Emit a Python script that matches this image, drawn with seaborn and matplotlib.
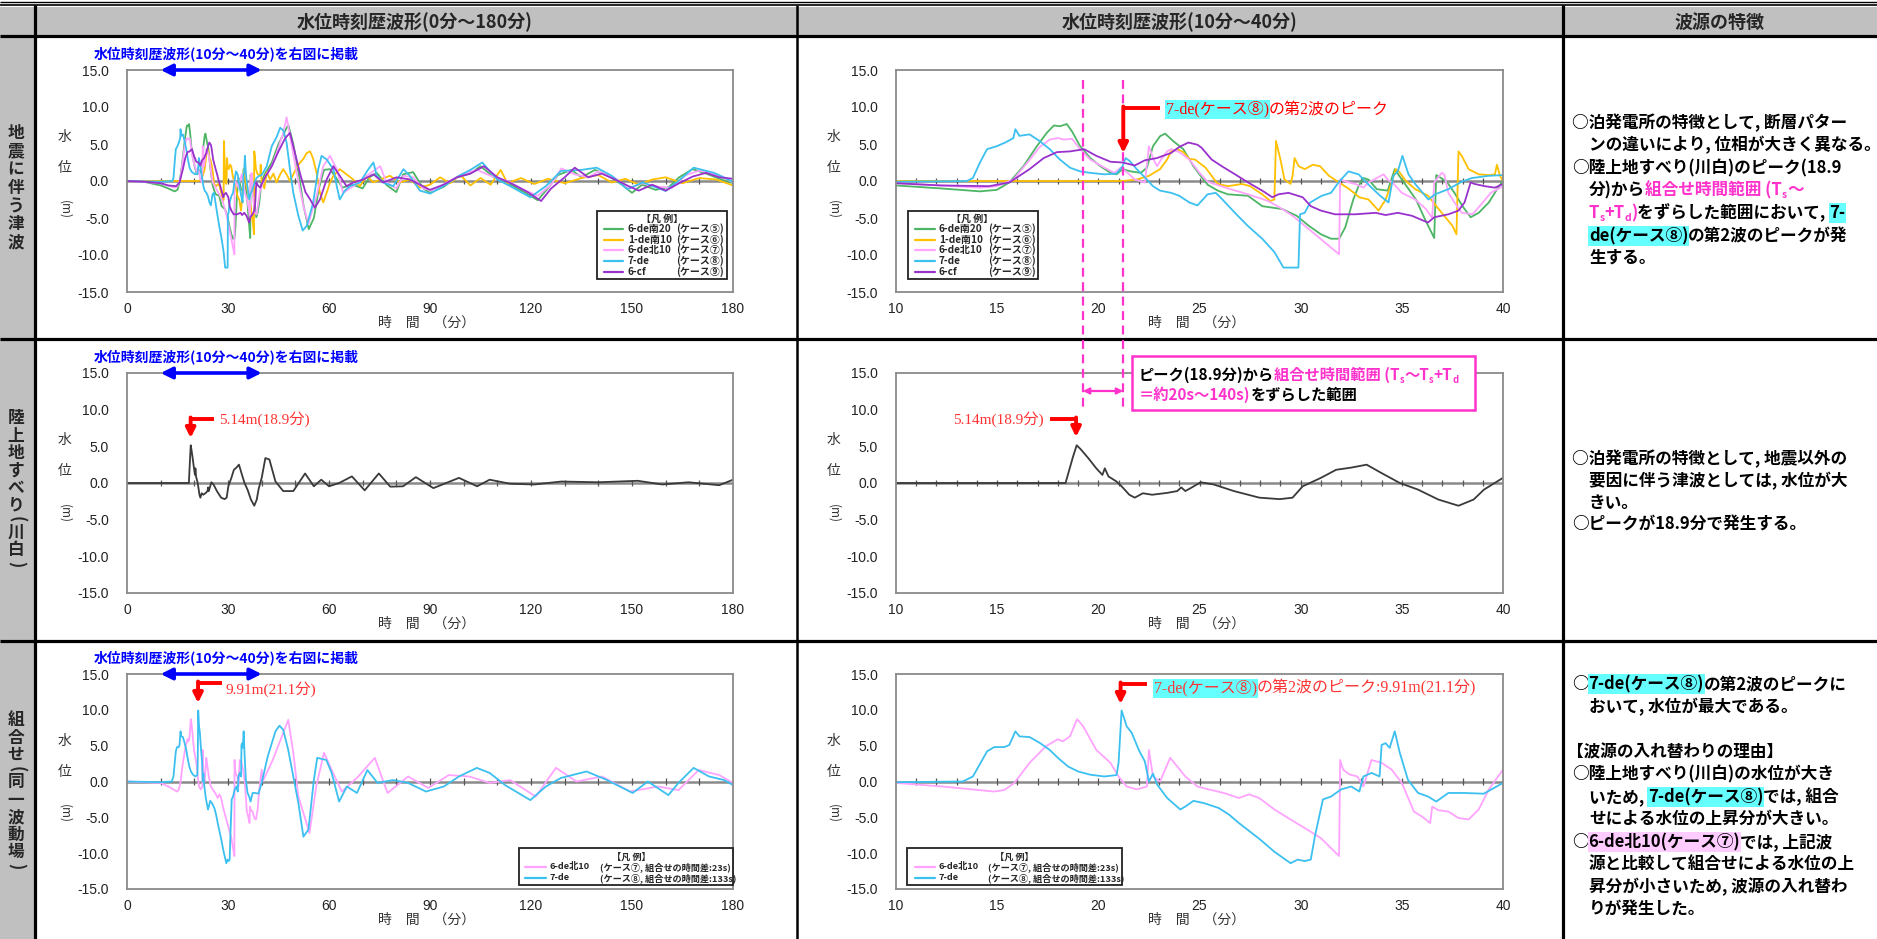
import numpy as np
import matplotlib
matplotlib.use('Agg')
import matplotlib.pyplot as plt
import seaborn as sns
from matplotlib.patches import Rectangle
from matplotlib.ticker import MultipleLocator, FuncFormatter

sns.set_style('white')
JP = ['Noto Sans CJK JP', 'DejaVu Sans']
SERIF = ['Liberation Serif', 'Noto Sans CJK JP']
NUM = ['Liberation Sans', 'DejaVu Sans']
plt.rcParams['font.family'] = JP

# ------------------------------------------------------------------ data
# (time [min], water level [m])
S5_6de_S20 = [(0, 0), (4, 0), (7, -0.3), (10, -0.6), (12.2, -1.0), (14.15, -1.4), (14.98, -1.2), (15.6, -0.2),
              (16.3, 2.0), (16.96, 4.7), (17.45, 6.5), (17.8, 7.5), (18.1, 7.4), (18.44, 7.7), (18.7, 6.7),
              (19.1, 4.7), (19.6, 3.1), (20.1, 2.0), (20.6, 1.1), (20.9, 0.9), (21.2, 1.6), (21.6, 1.3),
              (22.1, 1.1), (22.4, 1.8), (22.7, 4.7), (23.05, 6.05), (23.3, 6.4), (23.7, 5.4), (24.2, 4.3),
              (24.7, 2.0), (25.0, 0.9), (25.4, -0.5), (25.9, -1.3), (26.4, -1.8), (27.4, -2.0), (28.1, -3.4),
              (29.1, -3.8), (29.8, -4.7), (30.4, -6.05), (31.0, -7.2), (31.5, -7.8), (31.9, -7.8), (32.2, -6.3),
              (32.6, -2.5), (32.86, -0.7), (33.1, 0.4), (33.35, 0.2), (33.76, -1.1), (34.3, -1.3), (34.65, 1.6),
              (35.0, 0.2), (35.7, -2.5), (36.2, -5.5), (36.6, -7.7), (36.7, 0.8), (37.0, 0.3), (37.3, -0.4),
              (37.6, -1.6), (38.0, -3.4), (38.4, -4.9), (38.8, -4.3), (39.3, -2.9), (39.8, -0.7), (40.0, 0.0),
              (41, 1.0), (43, 2.5), (45, 5.0), (47.9, 7.6), (49.4, 5.0), (51, 1.0), (52.5, -3.5), (54, -6.5),
              (55.5, -5.0), (57, -1.0), (58.5, 1.5), (60.3, 1.6), (62, 0.5), (64, -0.9), (67, -0.5), (70, -1.0),
              (72, 0.5), (74.2, 1.1), (77, -0.5), (80, -1.5), (82, 0.9), (85, 1.2), (88, -1.0), (90, -1.6),
              (94, -0.8), (98, 0.5), (102, 1.0), (105, 2.0), (109, 0.5), (114, -0.5), (118, -1.5), (122, -2.6),
              (125, -1.0), (128, 0.8), (132, 1.5), (135, 0.5), (139, 1.5), (143, 0.7), (147, -0.5), (150, -1.6),
              (153, -0.5), (157, -1.2), (161, -0.8), (164, 0.5), (168, 1.6), (172, 1.0), (176, 0.3), (180, -0.3)]

S6_1de_S10 = [(0, 0), (10, 0), (21.2, 0), (21.9, 0.2), (22.5, 0.7), (23.05, 1.6), (23.4, 2.9), (23.6, 4.0),
              (23.9, 4.3), (24.2, 3.9), (24.5, 3.0), (24.78, 2.9), (25.3, 1.8), (25.6, 0.7), (25.9, -0.4),
              (26.4, -0.7), (27.1, -0.4), (27.5, -0.7), (28.1, -1.8), (28.5, -2.7), (28.7, -2.5), (28.78, 5.4),
              (29.0, 2.9), (29.2, 0.2), (29.5, -0.4), (29.6, 0.7), (29.7, 3.1), (29.9, 2.0), (30.2, 1.6),
              (30.6, 2.2), (30.96, 2.0), (31.4, 0.7), (31.9, -0.2), (32.4, -1.1), (32.9, -2.2), (33.35, -2.5),
              (33.85, -4.0), (34.2, -2.5), (34.5, -0.2), (34.7, 1.6), (34.8, 1.5), (35.2, 0.0), (35.66, -1.1),
              (36.3, -2.0), (36.97, -4.3), (37.5, -6.05), (37.7, -7.2), (37.8, 4.0), (37.96, 3.4), (38.3, 1.6),
              (38.8, 0.9), (39.3, 0.8), (39.6, 0.9), (39.7, 2.2), (39.85, 0.7), (40.0, 0.0), (40.8, -1.0),
              (41.5, 1.2), (42.5, 0.2), (43.5, 1.0), (44.4, -0.2), (45.5, 0.9), (46.4, 1.6), (47.4, 0.9),
              (48.4, 0.0), (49.4, 0.9), (50.4, 1.8), (51.4, 2.5), (52.4, 3.0), (53.4, 3.8), (54.4, 4.0),
              (55.3, 3.0), (56.3, 1.1), (57.3, -1.6), (58.3, -2.9), (59.3, -1.6), (60.3, -0.2), (61.3, 0.7),
              (63.2, 1.6), (65.2, 0.9), (67.2, 0.2), (69.2, -0.7), (71.2, 0.7), (73.2, -0.2), (75.2, 0.2),
              (78.1, 0.7), (81.1, -0.2), (84, 0.2), (87, -0.9), (90, -0.5), (93, 0.5), (96, -0.3), (99, 0.8),
              (102, -0.6), (105, 0.4), (108, -0.5), (111, 1.5), (113, -0.3), (117, 0.4), (121, -0.4), (125, 0.3),
              (130, -0.3), (135, 0.4), (140, 0.8), (144, -0.2), (148, 0.3), (152, -0.5), (156, 0.2), (160, 0.5),
              (165, -0.3), (170, 0.4), (175, 0.2), (180, -0.6)]

S7_6de_N10 = [(0, 0), (5, -0.1), (10, -0.3), (12.2, -0.6), (14.15, -0.9), (14.98, -0.7), (15.8, 0.2), (16.5, 2.5),
              (17.1, 4.6), (17.6, 5.6), (18.0, 5.8), (18.3, 5.6), (18.7, 5.7), (19.1, 4.3), (19.6, 2.9),
              (20.3, 1.8), (20.8, 1.1), (21.1, 1.8), (21.45, 1.1), (21.8, 0.2), (22.3, -0.2), (22.5, 4.7),
              (22.7, 3.1), (22.9, 2.0), (23.1, 2.9), (23.4, 4.0), (23.6, 4.3), (24.0, 3.9), (24.5, 2.9),
              (25.0, 1.1), (25.4, -0.1), (26.4, -1.0), (27.4, -1.8), (28.4, -2.7), (29.1, -3.8), (29.6, -4.7),
              (30.2, -6.05), (30.8, -7.4), (31.5, -9.0), (31.9, -9.9), (31.95, 0.2), (32.4, -0.2), (32.7, -0.4),
              (33.1, -0.9), (33.35, -0.2), (33.76, 0.4), (34.1, 0.9), (34.3, 0.2), (34.6, -0.4), (35.0, -1.6),
              (35.66, -2.5), (36.2, -3.8), (36.5, -5.0), (36.6, -0.2), (36.97, 1.1), (37.1, 0.9), (37.3, -1.6),
              (37.6, -2.9), (37.96, -4.3), (38.5, -4.5), (39.0, -2.9), (39.4, -1.6), (40.0, -0.7), (41, 0.5),
              (43, 2.0), (45, 4.5), (46.4, 6.5), (47.4, 8.6), (48.4, 6.1), (50.4, 1.1), (52.4, -3.4),
              (53.9, -5.8), (55, -4.0), (56.3, -2.0), (58.3, 2.0), (60.3, 3.4), (62.3, 1.6), (64.2, -1.6),
              (67.2, -0.7), (71.2, 0.7), (75.2, 2.0), (77.1, -0.2), (80, -1.0), (82.1, 0.7), (85, 0.5),
              (88, -1.0), (91, -1.3), (95, -0.2), (100, 1.0), (104, 1.5), (108, 0.7), (113, 0.0), (118, -1.2),
              (122, -2.0), (126, -0.5), (129, 1.7), (133, 0.9), (137, 0.5), (140, 1.3), (145, 0.4), (149, -1.1),
              (153, -0.3), (158, -0.8), (162, -0.9), (166, 0.8), (170, 1.4), (174, 1.0), (177, 0.6), (180, -0.2)]

S8_7de = [(0, 0), (10, -0.1), (13.5, 0.0), (13.8, 0.4), (14.15, 2.5), (14.5, 4.3), (14.98, 4.7), (15.4, 5.2),
          (15.8, 5.8), (15.9, 7.0), (16.1, 6.1), (16.6, 6.3), (17.1, 5.4), (17.6, 4.3), (18.1, 2.9), (18.6, 1.8),
          (19.1, 1.3), (19.6, 1.1), (20.3, 0.9), (20.9, 1.0), (21.2, 2.0), (21.35, 3.1), (21.55, 2.7),
          (21.9, 1.6), (22.4, 0.2), (22.7, -0.7), (23.05, -1.3), (23.6, -1.6), (24.0, -2.0), (24.5, -2.9),
          (24.9, -3.3), (25.4, -1.8), (25.8, -1.6), (26.1, -2.4), (26.75, -4.3), (27.4, -6.1), (28.1, -7.8),
          (28.7, -9.6), (29.15, -11.7), (29.89, -11.7), (29.97, -4.5), (30.2, -4.3), (30.47, -2.9),
          (31.04, -2.0), (31.5, -1.6), (31.87, -0.2), (32.36, 1.3), (32.86, 0.9), (33.43, -0.7), (33.93, -2.0),
          (34.34, -2.9), (34.58, 0.7), (34.8, 1.3), (35.03, 3.4), (35.33, 0.9), (35.66, -0.4), (36.31, -2.5),
          (36.64, -1.8), (37.3, -1.1), (37.96, -0.1), (38.46, 0.4), (39.28, 0.7), (40.0, 0.8), (41.5, 2.0),
          (43.0, 4.7), (44.5, 6.0), (45.5, 7.2), (46.5, 6.8), (47.4, 5.2), (48.4, 1.6), (49.4, -1.6),
          (50.9, -4.7), (52.2, -6.7), (53.4, -6.05), (55.3, -2.9), (56.8, 1.6), (57.8, 3.4), (59.3, 2.9),
          (61.3, 1.6), (62.3, -0.7), (63.2, -2.5), (64.7, -1.3), (66.2, -0.7), (69.2, -0.2), (71.7, 1.6),
          (73.2, 2.5), (74.2, 0.7), (76.1, -0.2), (79.1, -0.7), (82.1, 1.6), (84.0, 0.7), (87, -1.3),
          (90, -1.7), (94, -0.7), (98.6, 0.7), (102, 1.5), (105.5, 2.5), (110, 0.2), (113.8, -0.7),
          (119.8, -2.2), (124.4, -0.7), (128.9, 1.35), (135, 1.5), (139.5, 1.8), (144, 0.7), (148.6, -1.1),
          (153.2, -0.2), (160, -1.35), (163.8, 0.0), (168.3, 1.8), (174.4, 1.1), (180, -0.1)]

S9_6cf = [(0, 0), (5, -0.1), (10, -0.3), (12.2, -0.6), (14.6, -0.7), (15.6, -0.2), (16.6, 1.6), (17.3, 3.1),
          (17.95, 3.9), (18.6, 4.0), (19.3, 4.3), (19.9, 3.4), (20.6, 2.6), (21.2, 2.5), (21.8, 2.1), (22.3, 2.8),
          (22.9, 3.1), (23.6, 3.8), (24.0, 4.6), (24.45, 5.2), (24.9, 4.9), (25.1, 4.5), (25.6, 2.9), (26.1, 2.0),
          (26.76, 0.9), (27.4, -0.2), (28.1, -1.3), (28.6, -2.2), (28.9, -1.8), (29.4, -1.6), (30.1, -2.2),
          (30.5, -3.4), (31.0, -4.0), (31.7, -4.5), (32.7, -4.5), (33.7, -4.3), (34.2, -4.6), (34.8, -4.3),
          (35.5, -4.7), (36.1, -5.4), (36.3, -5.6), (36.6, -4.9), (37.3, -4.5), (37.8, -4.0), (38.1, -2.9),
          (38.4, -0.2), (38.6, -0.4), (39.1, -0.7), (39.6, -0.9), (40.0, -0.4), (41, 0.5), (43, 2.0), (45, 4.0),
          (47, 5.8), (48.4, 6.5), (49.5, 4.5), (51.4, 1.0), (53, -1.5), (54.4, -2.5), (55.8, -3.6), (57.3, -2.5),
          (59.3, 0.2), (61.3, 2.0), (63.2, 0.7), (65.2, -0.7), (67.2, -0.2), (70.2, 0.2), (73.2, 0.9),
          (76.1, -0.2), (80.1, 0.5), (84, 0.2), (87, -0.5), (90, -1.2), (94, -0.5), (98, 0.5), (102, 1.0),
          (106, 2.0), (110, 0.5), (114, -0.3), (119, -1.5), (123, -2.7), (126, -1.0), (130, 0.5), (133, 1.8),
          (137, 0.5), (141, 1.0), (145, 0.2), (149, -0.7), (152, -1.3), (156, -0.5), (160, -1.3), (164, -0.3),
          (168, 0.6), (172, 1.1), (176, 0.5), (180, 0.3)]

LANDSLIDE = [(0, 0), (18.38, 0.0), (18.75, 3.6), (18.93, 5.14), (19.13, 4.6), (19.5, 3.4), (19.9, 2.0),
             (20.2, 1.1), (20.32, 2.0), (20.5, 0.9), (20.9, 0.2), (21.15, -0.45), (21.53, -1.6), (21.8, -2.0),
             (22.2, -1.4), (22.66, -1.6), (23.4, -1.35), (23.9, -1.1), (24.1, -0.6), (24.3, -1.1), (24.56, -0.7),
             (25.06, 0.1), (25.7, -0.2), (26.7, -1.1), (27.96, -2.0), (28.97, -2.2), (29.6, -2.0), (30.1, -0.45),
             (31.0, 0.7), (31.75, 1.8), (32.5, 2.1), (33.26, 2.5), (34.0, 1.35), (34.9, 0.0), (35.8, -0.9),
             (36.8, -2.25), (37.8, -3.1), (38.55, -2.25), (39.06, -0.9), (40.04, 0.77), (41.1, 3.4),
             (42.3, 3.2), (44.1, 0.2), (46.4, -1.1), (49.4, -1.1), (52.9, 1.3), (55.5, -0.45), (57.7, 0.45),
             (60, -0.45), (63, 0.0), (66.8, 0.9), (70.6, -1.0), (74.8, 1.3), (78.2, -0.5), (82, -0.45),
             (85.8, 0.8), (91, -0.7), (98.6, 0.7), (104, -0.45), (107.7, 0.45), (113.8, -0.1), (121, -0.2),
             (129, 0.2), (140, 0.1), (151.7, 0.3), (159, -0.2), (166.8, 0.1), (175.9, -0.3), (180, 0.45)]

COMB_7de = [(0, 0), (10, -0.1), (13.3, 0.0), (13.8, 0.7), (14.5, 4.2), (14.85, 4.8), (15.35, 4.8), (15.6, 5.1),
            (15.9, 7.0), (16.1, 6.3), (16.6, 6.2), (17.1, 5.4), (17.6, 4.4), (18.0, 3.3), (18.5, 2.1),
            (19.0, 1.4), (19.6, 0.95), (20.3, 0.7), (20.9, 0.9), (21.0, 2.6), (21.15, 9.91), (21.4, 7.7),
            (21.65, 6.8), (22.0, 4.4), (22.3, 2.8), (22.5, 0.0), (22.7, 1.1), (22.9, -0.4), (23.4, -2.3),
            (24.05, -3.9), (24.3, -3.5), (24.7, -2.7), (25.2, -3.0), (25.95, -3.7), (26.45, -4.6),
            (26.95, -5.8), (28.0, -8.1), (28.7, -9.8), (29.5, -11.4), (29.85, -10.9), (30.2, -11.1),
            (30.5, -10.9), (30.7, -7.7), (31.1, -2.5), (31.5, -2.1), (32.0, -1.1), (32.5, -0.7), (32.9, -1.4),
            (33.1, 0.7), (33.5, 1.2), (33.9, 0.7), (34.0, 5.1), (34.2, 5.35), (34.4, 4.7), (34.65, 7.0),
            (34.9, 4.0), (35.3, 0.25), (35.8, -1.6), (36.3, -2.1), (36.7, -2.8), (37.3, -1.6), (38.05, -1.6),
            (39.05, -1.7), (40, -0.2), (41.8, 3.5), (44.1, 7.0), (45.3, 7.8), (46.4, 7.2), (47.9, 4.4),
            (49.4, 0.7), (50.9, -3.0), (52.4, -7.7), (53.9, -6.7), (55.5, 0.2), (56.5, 3.3), (59.2, 3.0),
            (60.8, 1.2), (63, -2.8), (65.3, -0.7), (68.3, -1.6), (71.4, 1.6), (74.4, -0.2), (79, 0.2),
            (83.5, -0.2), (88.8, -1.4), (94.1, -0.7), (98.6, 0.7), (103.9, 1.9), (107.7, 1.2), (112.3, -0.5),
            (119.8, -2.6), (124.4, -0.7), (128.9, 0.5), (136.5, 1.4), (142.6, 0.2), (150.2, -1.6), (154.7, 0.0),
            (160.8, -1.9), (163.8, -0.2), (168.3, 1.9), (172.9, 0.7), (177.4, 0.2), (180, -0.5)]

COMB_6de_N10 = [(0, 0), (5, -0.1), (10, -0.2), (12.3, -0.7), (14.85, -1.4), (15.35, -1.2), (15.85, -0.2),
                (16.6, 2.6), (17.4, 4.9), (18.0, 5.9), (18.25, 5.6), (18.6, 6.3), (18.95, 8.7), (19.25, 7.7),
                (19.9, 4.4), (20.6, 2.6), (21.0, 0.7), (21.4, -0.7), (21.9, -1.1), (22.4, -0.7), (22.5, 4.4),
                (22.7, 0.7), (23.05, 0.0), (23.55, 3.3), (23.9, 2.1), (24.3, 0.7), (24.9, -0.7), (25.45, -1.1),
                (26.2, -1.6), (26.95, -2.3), (27.45, -1.8), (27.95, -2.3), (28.7, -3.9), (29.5, -5.3),
                (30.2, -6.5), (31.0, -7.9), (31.75, -10.0), (31.9, -10.4), (31.95, 3.0), (32.1, 1.65),
                (32.4, 1.0), (32.8, 0.7), (33.1, -0.7), (33.5, 3.0), (34.0, 2.6), (34.5, 1.65), (35.0, -0.2),
                (35.6, -4.2), (36.0, -4.9), (36.4, -5.8), (36.5, -3.5), (36.8, -4.0), (37.3, -4.2), (37.8, -5.1),
                (38.3, -5.3), (38.8, -3.9), (39.3, -1.1), (40, 1.65), (40.3, 0.0), (43.3, 3.0), (45.6, 5.8),
                (47.9, 8.6), (49.4, 4.0), (50.9, -2.1), (53.2, -5.6), (54.2, -7.2), (56.2, -0.7), (58.5, 4.0),
                (60.8, 1.6), (63.8, -1.4), (68.3, 0.5), (73.6, 3.3), (77.4, -1.6), (83.5, 0.7), (89.5, -0.9),
                (95.6, 0.9), (101.7, 0.7), (107.7, -0.2), (113.8, 0.2), (121.4, -2.1), (127.4, 1.9), (133.5, 0.0),
                (141.1, 0.7), (149.4, -1.4), (157.7, -0.7), (163.8, -1.2), (169.8, 1.6), (175.9, 0.9), (180, -0.2)]

PEAK_T = 18.9          # landslide peak time [min]
PEAK_V = 5.14
COMB_T = 21.1
COMB_V = 9.91
TS_S, TD_S = 20, 140   # combination window [s]

LEG1 = [('6-de南20', '(ケース⑤)'), ('1-de南10', '(ケース⑥)'), ('6-de北10', '(ケース⑦)'),
        ('7-de', '(ケース⑧)'), ('6-cf', '(ケース⑨)')]
LEG3 = [('6-de北10', '(ケース⑦, 組合せの時間差:23s)'), ('7-de', '(ケース⑧, 組合せの時間差:133s)')]

Y_TICKS = [-15, -10, -5, 0, 5, 10, 15]
X_TICKS_L = [0, 30, 60, 90, 120, 150, 180]
X_TICKS_R = [10, 15, 20, 25, 30, 35, 40]

GREEN, ORANGE, PINK, CYAN, PURPLE, DARK = '#4DB565', '#FFC000', '#FFA3FF', '#3CC0F0', '#9932CC', '#3a3a3a'
RED, BLUE, MAG = '#FF0000', '#0000FF', '#FF33CC'
HL_CY, HL_PK = '#66FFFF', '#FFCCFF'

# ------------------------------------------------------------------ figure
W, H = 1877, 939
fig = plt.figure(figsize=(W / 100, H / 100), dpi=100)
fig.patch.set_facecolor('white')
PX = 100 / 72.0


def rect(x0, y0, x1, y1):
    return [x0 / W, 1 - y1 / H, (x1 - x0) / W, (y1 - y0) / H]


bg = fig.add_axes([0, 0, 1, 1], zorder=-5)
bg.set_xlim(0, W); bg.set_ylim(H, 0); bg.axis('off')
fg = fig.add_axes([0, 0, 1, 1], zorder=10)
fg.set_xlim(0, W); fg.set_ylim(H, 0); fg.axis('off')

# table
bg.add_patch(Rectangle((0, 7), W, 29, fc='#C0C0C0', ec='none'))
bg.add_patch(Rectangle((0, 36), 35, H - 36, fc='#C0C0C0', ec='none'))
for y, lw in [(1.5, 1.0), (5, 1.2), (36, 2.3), (339, 2.3), (641, 2.3)]:
    bg.plot([0, W], [y, y], color='black', lw=lw, solid_capstyle='butt')
for x, lw in [(35.5, 2.3), (797.5, 1.8), (1563.5, 2.3)]:
    bg.plot([x, x], [5, H], color='black', lw=lw, solid_capstyle='butt')

for x, t in [(415, '水位時刻歴波形(0分〜180分)'), (1180, '水位時刻歴波形(10分〜40分)'), (1720, '波源の特徴')]:
    fg.text(x, 22, t, ha='center', va='center', fontsize=13, fontweight='bold', family=JP)


def vlabel(chars, y0, step):
    y = y0
    prev_paren = False
    for i, ch in enumerate(chars):
        paren = ch in '()'
        if i > 0:
            y += step * (0.78 if (paren or prev_paren) else 1.0)
        if paren:
            fg.text(16, y, ch, ha='center', va='center', fontsize=12, fontweight='bold', family=JP,
                    rotation=-90)
        else:
            fg.text(16, y, ch, ha='center', va='center', fontsize=12, fontweight='bold', family=JP)
        prev_paren = paren


vlabel('地震に伴う津波', 133, 18.3)
vlabel('陸上地すべり(川白)', 418, 17.5)
vlabel('組合せ(同一波動場)', 720, 17.5)

LX, RX = (127, 733), (896, 1503)
ROWS = [(70, 292), (373, 593), (674, 889)]


def chart(xr, yr, xlim, xticks, zticks, series):
    ax = fig.add_axes(rect(xr[0], yr[0], xr[1], yr[1]))
    ax.set_facecolor('none')
    ax.axhline(0, color='#8a8a8a', lw=1.8, zorder=1.2)
    ax.vlines(zticks, -0.45, 0.45, color='#555555', lw=0.9, zorder=1.3)
    for data, col in series:
        sns.lineplot(x=[p[0] for p in data], y=[p[1] for p in data], ax=ax, color=col, lw=1.3,
                     estimator=None, sort=False, legend=False, zorder=2)
    ax.set_xlim(*xlim); ax.set_ylim(-15, 15)
    ax.set_xticks(xticks); ax.set_yticks(Y_TICKS)
    ax.yaxis.set_minor_locator(MultipleLocator(1))
    ax.yaxis.set_major_formatter(FuncFormatter(lambda v, p: f'{v:.1f}'))
    ax.tick_params(axis='y', which='major', direction='in', length=4, width=0.8, color='#777', pad=13,
                   labelsize=10, labelcolor='#222')
    ax.tick_params(axis='y', which='minor', direction='in', length=2.5, width=0.6, color='#777')
    ax.tick_params(axis='x', length=0, pad=7, labelsize=10, labelcolor='#222')
    for lab in ax.get_xticklabels() + ax.get_yticklabels():
        lab.set_family(NUM)
    ax.set_xlabel(''); ax.set_ylabel('')
    for sp in ax.spines.values():
        sp.set_visible(True); sp.set_color('#8a8a8a'); sp.set_linewidth(1.3)
    top, bot = yr
    fg.text((xr[0] + xr[1]) / 2 - 3, bot + 31, '時　間　（分）', ha='center', va='center', fontsize=10,
            family=JP, color='#333')
    fg.text(xr[0] - 62, top + 67, '水', ha='center', va='center', fontsize=10, family=JP, color='#333')
    fg.text(xr[0] - 62, top + 98, '位', ha='center', va='center', fontsize=10, family=JP, color='#333')
    fg.text(xr[0] - 62, top + 140, '(m)', ha='center', va='center', fontsize=8.5, family=JP, color='#333',
            rotation=-90)
    return ax


ser1 = [(S5_6de_S20, GREEN), (S6_1de_S10, ORANGE), (S7_6de_N10, PINK), (S8_7de, CYAN), (S9_6cf, PURPLE)]
ser2 = [(LANDSLIDE, DARK)]
ser3 = [(COMB_6de_N10, PINK), (COMB_7de, CYAN)]
zl = list(range(10, 180, 10))
zr = list(range(11, 40))
a1l = chart(LX, ROWS[0], (0, 180), X_TICKS_L, zl, ser1)
a1r = chart(RX, ROWS[0], (10, 40), X_TICKS_R, zr, ser1)
a2l = chart(LX, ROWS[1], (0, 180), X_TICKS_L, zl, ser2)
a2r = chart(RX, ROWS[1], (10, 40), X_TICKS_R, zr, ser2)
a3l = chart(LX, ROWS[2], (0, 180), X_TICKS_L, zl, ser3)
a3r = chart(RX, ROWS[2], (10, 40), X_TICKS_R, zr, ser3)


def P(ax, t, v=0):
    x, y = ax.transData.transform((t, v))
    return x, H - y


R = fig.canvas.get_renderer()


def S(text, c='black', bgc=None, sub=False):
    return (text, c, bgc, sub)


def rich(x, yc, segs, size=11.8, weight='bold', family=JP):
    fpx = size * PX
    base = yc + 0.36 * fpx
    for text, col, bgc, sub in segs:
        fs = size * 0.62 if sub else size
        yy = base + (0.2 * fpx if sub else 0)
        t = fg.text(x, yy, text, color=col, fontsize=fs, fontweight=weight, family=family,
                    va='baseline', ha='left', zorder=6)
        if bgc:
            t.set_bbox(dict(facecolor=bgc, edgecolor='none', pad=0.6))
        x = t.get_window_extent(R).x1
    return x


for ax, (top, bot) in zip([a1l, a2l, a3l], ROWS):
    x0, _ = P(ax, 10); x1, _ = P(ax, 40)
    fg.annotate('', xy=(x1, top), xytext=(x0, top),
                arrowprops=dict(arrowstyle='<|-|>', color=BLUE, lw=2.6, mutation_scale=17,
                                shrinkA=0, shrinkB=0))
    fg.text(94, top - 16, '水位時刻歴波形(10分～40分)を右図に掲載', color=BLUE, fontsize=10,
            fontweight='bold', family=JP, va='center', ha='left')


def red_arrow(xa, y_line, x_tail, y_tip):
    fg.plot([x_tail, xa], [y_line, y_line], color=RED, lw=2.8, solid_capstyle='butt')
    fg.annotate('', xy=(xa, y_tip), xytext=(xa, y_line - 1.5),
                arrowprops=dict(arrowstyle='-|>', color=RED, lw=2.8, mutation_scale=14,
                                shrinkA=0, shrinkB=0))


t_a = PEAK_T + TS_S / 60.0
t_b = PEAK_T + TD_S / 60.0
xa, _ = P(a1r, t_b)
red_arrow(xa, 108, 1160, 153)
rich(1166, 108, [S('7-de(ケース⑧)', RED, HL_CY), S('の第2波のピーク', RED)], size=11.5, weight='normal',
     family=SERIF)

for t in (t_a, t_b):
    xd, _ = P(a1r, t)
    fg.plot([xd, xd], [80, 408], color=MAG, lw=1.6, ls=(0, (4, 2.5)))
xd0, _ = P(a1r, t_a); xd1, _ = P(a1r, t_b)
fg.annotate('', xy=(xd1, 391), xytext=(xd0, 391),
            arrowprops=dict(arrowstyle='<|-|>', color=MAG, lw=1.6, mutation_scale=9, shrinkA=0, shrinkB=0))
fg.add_patch(Rectangle((1132, 356), 343, 54, fc='white', ec=MAG, lw=1.8, zorder=5))
rich(1139, 374, [S('ピーク(18.9分)から'), S('組合せ時間範囲 (T', MAG), S('s', MAG, sub=True), S('〜T', MAG),
                 S('s', MAG, sub=True), S('+T', MAG), S('d', MAG, sub=True)], size=11)
rich(1139, 394, [S('＝約20s〜140s)', MAG), S('をずらした範囲')], size=11)

xa, _ = P(a2r, PEAK_T)
red_arrow(xa, 419, 1050, 437)
fg.text(1044, 419, f'{PEAK_V:.2f}m({PEAK_T}分)', color='#FF3333', fontsize=11, family=SERIF, ha='right',
        va='center')
xa, _ = P(a2l, PEAK_T)
red_arrow(xa, 419, 214, 438)
fg.text(219, 419, f'{PEAK_V:.2f}m({PEAK_T}分)', color='#FF3333', fontsize=11, family=SERIF, ha='left',
        va='center')

xa, _ = P(a3l, COMB_T)
red_arrow(xa, 683, 222, 703)
fg.text(226, 689, f'{COMB_V:.2f}m({COMB_T}分)', color='#FF3333', fontsize=11, family=SERIF, ha='left',
        va='center')
xa, _ = P(a3r, COMB_T)
red_arrow(xa, 684, 1147, 704)
rich(1154, 687, [S('7-de(ケース⑧)', '#FF3333', HL_CY), S(f'の第2波のピーク:{COMB_V:.2f}m({COMB_T}分)', '#FF3333')],
     size=11.5, weight='normal', family=SERIF)


def legend(box, title_x, title_y, ys, lx, labx, casex, entries, colors, fs):
    x0, y0, x1, y1 = box
    fg.add_patch(Rectangle((x0, y0), x1 - x0, y1 - y0, fc='white', ec='#222', lw=1.3, zorder=4))
    fg.text(title_x, title_y, '【凡 例】', ha='center', va='center', fontsize=fs, fontweight='bold',
            family=JP, zorder=5)
    for (lab, case), col, y in zip(entries, colors, ys):
        fg.plot(lx, [y, y], color=col, lw=1.6, zorder=5)
        fg.text(labx, y, lab, ha='left', va='center', fontsize=fs, fontweight='bold', family=JP, zorder=5)
        fg.text(casex, y, case, ha='left', va='center', fontsize=fs, fontweight='bold', family=JP, zorder=5)


c1 = [GREEN, ORANGE, PINK, CYAN, PURPLE]
ys1 = [229, 240, 250, 261, 272]
legend((597, 211, 727, 279), 662, 219, ys1, [604, 623], 628, 676, LEG1, c1, 7.2)
legend((908, 211, 1038, 279), 972, 219, ys1, [915, 935], 939, 988, LEG1, c1, 7.2)
legend((519, 848, 733, 885), 631, 857, [867, 878], [525, 546], 550, 600, LEG3, [PINK, CYAN], 6.6)
legend((907, 848, 1122, 885), 1014, 857, [867, 878], [915, 935], 939, 988, LEG3, [PINK, CYAN], 6.6)

XA, XB = 1572, 1589
rows_text = [
    (XA, 122, [S('○泊発電所の特徴として, 断層パター')]),
    (XB, 144, [S('ンの違いにより, 位相が大きく異なる。')]),
    (XA, 167, [S('○陸上地すべり(川白)のピーク(18.9')]),
    (XB, 189, [S('分)から'), S('組合せ時間範囲 (T', MAG), S('s', MAG, sub=True), S('〜', MAG)]),
    (XB, 212, [S('T', MAG), S('s', MAG, sub=True), S('+T', MAG), S('d', MAG, sub=True), S(')', MAG),
               S('をずらした範囲において, '), S('7-', 'black', HL_CY)]),
    (XB, 235, [S('de(ケース⑧)', 'black', HL_CY), S('の第2波のピークが発')]),
    (XB, 257, [S('生する。')]),
    (XA, 458, [S('○泊発電所の特徴として, 地震以外の')]),
    (XB, 480, [S('要因に伴う津波としては, 水位が大')]),
    (XB, 502, [S('きい。')]),
    (XA, 524, [S('○ピークが18.9分で発生する。')]),
    (XA, 683, [S('○'), S('7-de(ケース⑧)', 'black', HL_CY), S('の第2波のピークに')]),
    (XB, 706, [S('おいて, 水位が最大である。')]),
    (1567, 751, [S('【波源の入れ替わりの理由】')]),
    (XA, 773, [S('○陸上地すべり(川白)の水位が大き')]),
    (XB, 796, [S('いため, '), S('7-de(ケース⑧)', 'black', HL_CY), S('では, 組合')]),
    (XB, 818, [S('せによる水位の上昇分が大きい。')]),
    (XA, 841, [S('○'), S('6-de北10(ケース⑦)', 'black', HL_PK), S('では, 上記波')]),
    (XB, 863, [S('源と比較して組合せによる水位の上')]),
    (XB, 886, [S('昇分が小さいため, 波源の入れ替わ')]),
    (XB, 908, [S('りが発生した。')]),
]
for x, y, segs in rows_text:
    rich(x, y, segs, size=12)

fig.savefig('out.png', dpi=100, facecolor='white')
